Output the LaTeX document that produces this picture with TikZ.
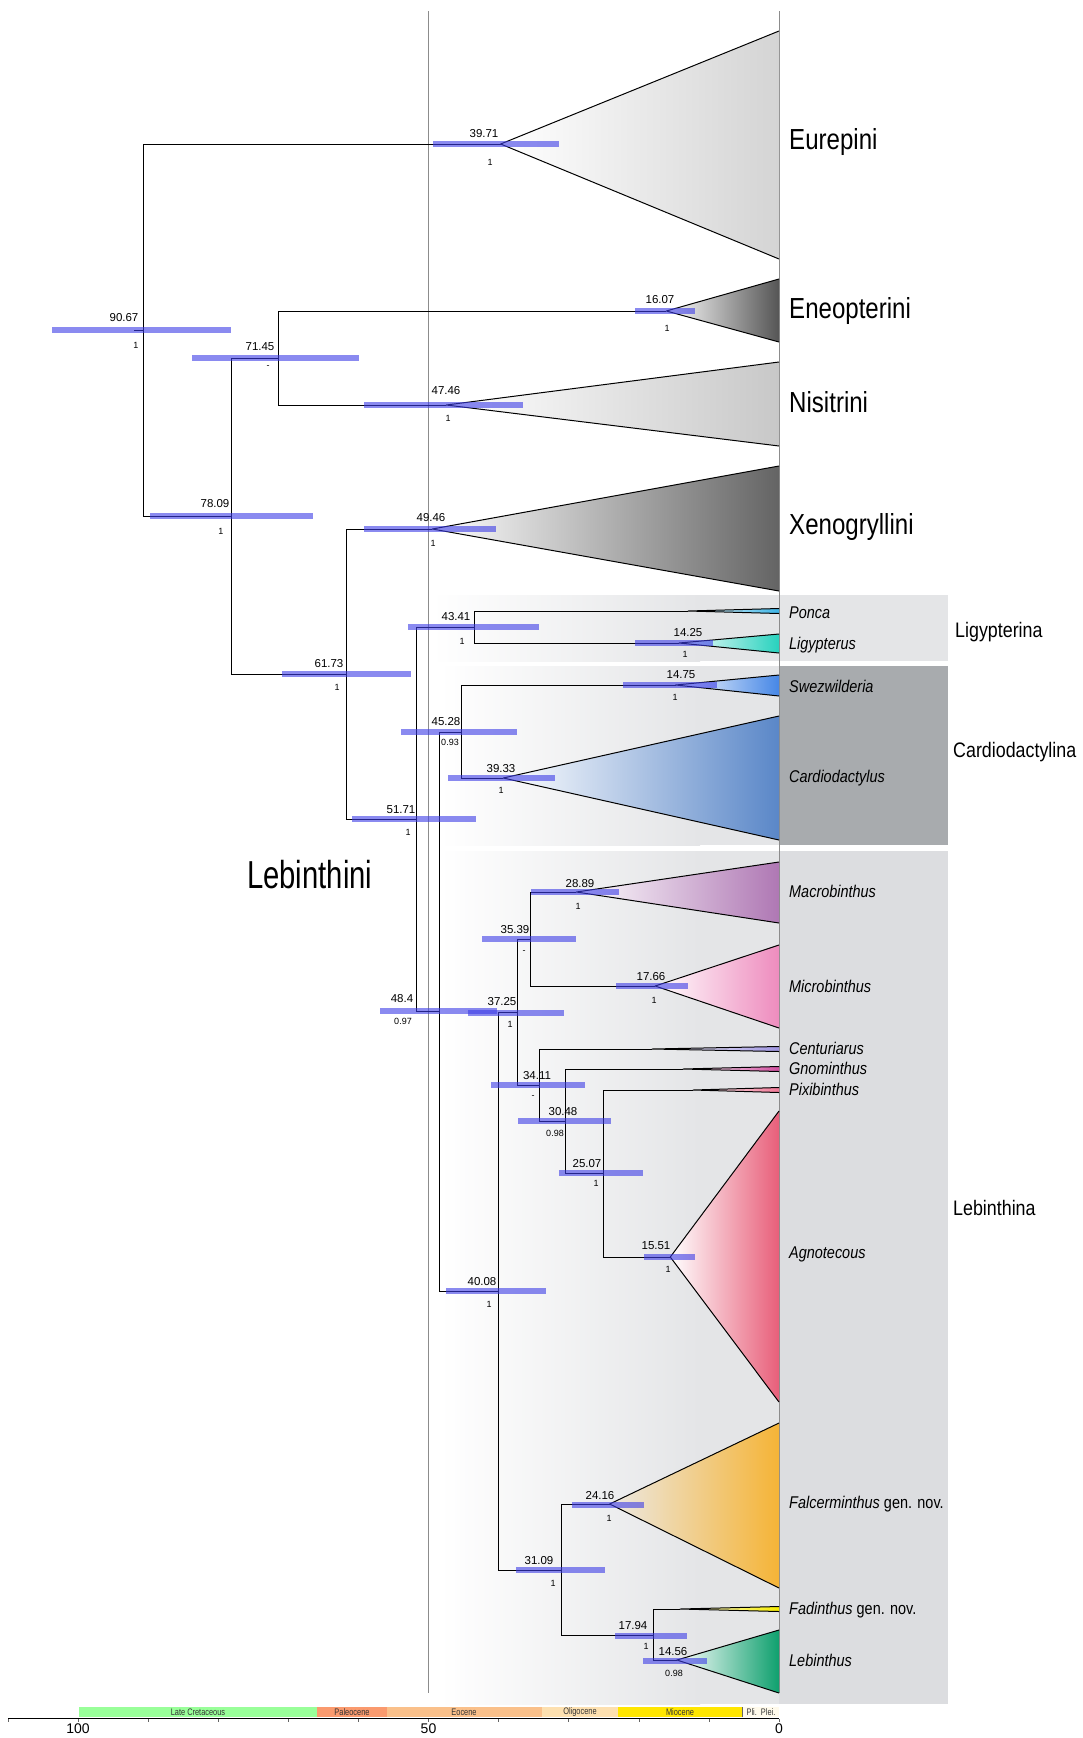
\documentclass[tikz,border=0pt]{standalone}
\usepackage{fontspec}
\setmainfont{Liberation Sans}
\newfontfamily\tribefont[FakeStretch=0.83]{Liberation Sans}
\newfontfamily\bigtribefont[FakeStretch=0.75]{Liberation Sans}
\newfontfamily\genusfont[FakeStretch=0.85]{Liberation Sans}
\newfontfamily\subtribefont[FakeStretch=0.85]{Liberation Sans}
\newfontfamily\epochfont[FakeStretch=0.78]{Liberation Sans}

\definecolor{hpdblue}{RGB}{60,60,230}
\definecolor{boxlight}{RGB}{228,229,231}
\definecolor{boxdark}{RGB}{168,171,174}
\definecolor{boxmid}{RGB}{220,221,224}
\definecolor{eurgray}{RGB}{212,212,212}
\definecolor{enegray}{RGB}{85,85,85}
\definecolor{nisgray}{RGB}{200,200,200}
\definecolor{xengray}{RGB}{100,100,100}
\definecolor{poncablue}{RGB}{60,180,230}
\definecolor{ligteal}{RGB}{40,210,190}
\definecolor{sweblue}{RGB}{70,135,230}
\definecolor{carblue}{RGB}{90,135,200}
\definecolor{macpurple}{RGB}{175,120,180}
\definecolor{micpink}{RGB}{238,140,190}
\definecolor{cenlav}{RGB}{160,150,225}
\definecolor{gnomag}{RGB}{210,80,160}
\definecolor{pixpink}{RGB}{240,120,150}
\definecolor{agnred}{RGB}{232,95,122}
\definecolor{falorange}{RGB}{245,180,55}
\definecolor{fallight}{RGB}{236,233,228}
\definecolor{fadyellow}{RGB}{245,235,0}
\definecolor{lebgreen}{RGB}{15,160,110}
\definecolor{lcret}{RGB}{153,255,153}
\definecolor{paleoc}{RGB}{250,154,110}
\definecolor{eocene}{RGB}{250,192,138}
\definecolor{oligoc}{RGB}{253,224,176}
\definecolor{miocene}{RGB}{255,230,0}
\definecolor{pleist}{RGB}{255,250,235}

\newcommand{\ma}[1]{779-7.01*#1}
\newcommand{\clade}[5][white]{%
  \path[left color=#1, right color=#5] (#2) -- (779,#3) -- (779,#4) -- cycle;
  \draw[branch, line join=round] (779,#3) -- (#2) -- (779,#4);}
\newcommand{\hpd}[3]{\fill[hpd] (#1,{#3-3}) rectangle (#2,{#3+3});}

\tikzset{
  branch/.style={line width=1pt, black},
  refline/.style={line width=0.7pt, black!45},
  hpd/.style={fill=hpdblue, fill opacity=0.6},
  age/.style={inner sep=0pt, font=\fontsize{11.5}{12}\selectfont},
  pp/.style={inner sep=0pt, font=\fontsize{9}{9}\selectfont},
  tribe/.style={anchor=base west, inner sep=0pt, font=\tribefont\fontsize{29}{29}\selectfont},
  genus/.style={anchor=base west, inner sep=0pt, font=\genusfont\fontsize{17}{17}\selectfont\itshape},
  subtribe/.style={anchor=base west, inner sep=0pt, font=\subtribefont\fontsize{21}{21}\selectfont},
  epoch/.style={inner sep=0pt, text=black!80, font=\epochfont\fontsize{9.5}{9.5}\selectfont},
  axis/.style={line width=1.4pt, black},
  ticklabel/.style={inner sep=0pt, font=\fontsize{14}{14}\selectfont},
}

\begin{document}
\begin{tikzpicture}[x=1pt,y=-1pt]
\useasboundingbox (0,0) rectangle (1083,1738);

% subtribe boxes
\shade[left color=white, right color=boxlight] (432,595) rectangle (700,661);
\fill[boxlight] (700,595) rectangle (948,661);
\shade[left color=white, right color=boxlight] (440,666) rectangle (700,845);
\fill[boxlight] (700,666) rectangle (779,845);
\fill[boxdark] (779,666) rectangle (948,845);
\shade[left color=white, right color=boxlight] (440,851) rectangle (700,1704);
\fill[boxlight] (700,851) rectangle (779,1704);
\fill[boxmid] (779,851) rectangle (948,1704);

\draw[refline] (428,11) -- (428,1693);
\draw[refline] (779,11) -- (779,1693);

% tree nodes
\coordinate (stem) at (134,330);
\coordinate (root) at ({\ma{90.67}},330);
\coordinate (eur) at ({\ma{39.71}},144);
\coordinate (a7809) at ({\ma{78.09}},516);
\coordinate (a7145) at ({\ma{71.45}},358);
\coordinate (ene) at ({\ma{16.07}},311);
\coordinate (nis) at ({\ma{47.46}},405);
\coordinate (a6173) at ({\ma{61.73}},674);
\coordinate (xen) at ({\ma{49.46}},529);
\coordinate (a5171) at ({\ma{51.71}},819);
\coordinate (a4341) at ({\ma{43.41}},627);
\coordinate (ponca) at (688,611);
\coordinate (lig) at ({\ma{14.25}},643);
\coordinate (a484) at ({\ma{48.4}},1011);
\coordinate (a4528) at ({\ma{45.28}},732);
\coordinate (swe) at ({\ma{14.75}},685);
\coordinate (car) at ({\ma{39.33}},778);
\coordinate (a4008) at ({\ma{40.08}},1291);
\coordinate (a3725) at ({\ma{37.25}},1012);
\coordinate (a3539) at ({\ma{35.39}},939);
\coordinate (mac) at ({\ma{28.89}},892);
\coordinate (mic) at ({\ma{17.66}},986);
\coordinate (a3411) at ({\ma{34.11}},1085);
\coordinate (cen) at (652,1049);
\coordinate (a3048) at ({\ma{30.48}},1121);
\coordinate (gno) at (683,1069);
\coordinate (a2507) at ({\ma{25.07}},1173);
\coordinate (pix) at (693,1090);
\coordinate (agn) at ({\ma{15.51}},1257);
\coordinate (a3109) at ({\ma{31.09}},1570);
\coordinate (fal) at ({\ma{24.16}},1504);
\coordinate (a1794) at ({\ma{17.94}},1635);
\coordinate (fad) at (680,1609);
\coordinate (leb) at ({\ma{14.56}},1660);

% collapsed clades
\clade{eur}{31}{259}{eurgray}
\clade{ene}{279}{342}{enegray}
\clade{nis}{362}{446}{nisgray}
\clade{xen}{466}{591}{xengray}
\clade{ponca}{608.5}{613.5}{poncablue}
\clade{lig}{634}{653}{ligteal}
\clade{swe}{675}{696}{sweblue}
\clade{car}{716}{840}{carblue}
\clade{mac}{862}{923}{macpurple}
\clade{mic}{945}{1028}{micpink}
\clade{cen}{1046.5}{1051.5}{cenlav}
\clade{gno}{1066.5}{1071.5}{gnomag}
\clade{pix}{1087.5}{1092.5}{pixpink}
\clade{agn}{1111}{1402}{agnred}
\clade[fallight]{fal}{1423}{1588}{falorange}
\clade{fad}{1606.5}{1611.5}{fadyellow}
\clade{leb}{1630}{1693}{lebgreen}

% branches
\draw[branch] (stem) -- (root);
\draw[branch] (eur) -| (root) |- (a7809);
\draw[branch] (a7145) -| (a7809) |- (a6173);
\draw[branch] (ene) -| (a7145) |- (nis);
\draw[branch] (xen) -| (a6173) |- (a5171);
\draw[branch] (a4341) -| (a5171) |- (a484);
\draw[branch] (ponca) -| (a4341) |- (lig);
\draw[branch] (a4528) -| (a484) |- (a4008);
\draw[branch] (swe) -| (a4528) |- (car);
\draw[branch] (a3725) -| (a4008) |- (a3109);
\draw[branch] (a3539) -| (a3725) |- (a3411);
\draw[branch] (mac) -| (a3539) |- (mic);
\draw[branch] (cen) -| (a3411) |- (a3048);
\draw[branch] (gno) -| (a3048) |- (a2507);
\draw[branch] (pix) -| (a2507) |- (agn);
\draw[branch] (fal) -| (a3109) |- (a1794);
\draw[branch] (fad) -| (a1794) |- (leb);

% 95% HPD bars
\hpd{433}{559}{144}
\hpd{52}{231}{330}
\hpd{192}{359}{358}
\hpd{635}{695}{311}
\hpd{364}{523}{405}
\hpd{150}{313}{516}
\hpd{364}{496}{529}
\hpd{408}{539}{627}
\hpd{635}{713}{643}
\hpd{282}{411}{674}
\hpd{623}{717}{685}
\hpd{401}{517}{732}
\hpd{448}{555}{778}
\hpd{352}{476}{819}
\hpd{380}{497}{1011}
\hpd{468}{564}{1013}
\hpd{482}{576}{939}
\hpd{531}{619}{892}
\hpd{616}{688}{986}
\hpd{491}{585}{1085}
\hpd{518}{611}{1121}
\hpd{559}{643}{1173}
\hpd{644}{695}{1257}
\hpd{446}{546}{1291}
\hpd{572}{644}{1505}
\hpd{516}{605}{1570}
\hpd{615}{687}{1636}
\hpd{643}{707}{1661}

% node ages and support
\node[age] (t3971) at (484,134) {39.71}; \node[pp] (s3971) at (490,162) {1};
\node[age] (t1607) at (660,300) {16.07}; \node[pp] (s1607) at (667,328) {1};
\node[age] (t9067) at (124,318) {90.67}; \node[pp] (s9067) at (136,345) {1};
\node[age] (t7145) at (260,347) {71.45}; \node[pp] (s7145) at (268,367) {-};
\node[age] (t4746) at (446,391) {47.46}; \node[pp] (s4746) at (448,418) {1};
\node[age] (t7809) at (215,504) {78.09}; \node[pp] (s7809) at (221,531) {1};
\node[age] (t4946) at (431,518) {49.46}; \node[pp] (s4946) at (433,543) {1};
\node[age] (t4341) at (456,617) {43.41}; \node[pp] (s4341) at (462,641) {1};
\node[age] (t1425) at (688,633) {14.25}; \node[pp] (s1425) at (685,654) {1};
\node[age] (t6173) at (329,664) {61.73}; \node[pp] (s6173) at (337,687) {1};
\node[age] (t1475) at (681,675) {14.75}; \node[pp] (s1475) at (675,697) {1};
\node[age] (t4528) at (446,722) {45.28}; \node[pp] (s4528) at (450,742) {0.93};
\node[age] (t3933) at (501,769) {39.33}; \node[pp] (s3933) at (501,790) {1};
\node[age] (t5171) at (401,810) {51.71}; \node[pp] (s5171) at (408,832) {1};
\node[age] (t484) at (402,999) {48.4}; \node[pp] (s484) at (403,1021) {0.97};
\node[age] (t3725) at (502,1002) {37.25}; \node[pp] (s3725) at (510,1024) {1};
\node[age] (t3539) at (515,930) {35.39}; \node[pp] (s3539) at (524,952) {-};
\node[age] (t2889) at (580,884) {28.89}; \node[pp] (s2889) at (578,906) {1};
\node[age] (t1766) at (651,977) {17.66}; \node[pp] (s1766) at (654,1000) {1};
\node[age] (t3411) at (537,1076) {34.11}; \node[pp] (s3411) at (533,1097) {-};
\node[age] (t3048) at (563,1112) {30.48}; \node[pp] (s3048) at (555,1133) {0.98};
\node[age] (t2507) at (587,1164) {25.07}; \node[pp] (s2507) at (596,1183) {1};
\node[age] (t1551) at (656,1246) {15.51}; \node[pp] (s1551) at (668,1269) {1};
\node[age] (t4008) at (482,1282) {40.08}; \node[pp] (s4008) at (489,1304) {1};
\node[age] (t2416) at (600,1496) {24.16}; \node[pp] (s2416) at (609,1518) {1};
\node[age] (t3109) at (539,1561) {31.09}; \node[pp] (s3109) at (553,1583) {1};
\node[age] (t1794) at (633,1626) {17.94}; \node[pp] (s1794) at (646,1646) {1};
\node[age] (t1456) at (673,1652) {14.56}; \node[pp] (s1456) at (674,1673) {0.98};

% tribes
\node[tribe] (lEur) at (789,149) {Eurepini};
\node[tribe] (lEne) at (789,318) {Eneopterini};
\node[tribe] (lNis) at (789,412) {Nisitrini};
\node[tribe] (lXen) at (789,534) {Xenogryllini};
\node[anchor=base west, inner sep=0pt, font=\bigtribefont\fontsize{39}{39}\selectfont] (lLeb) at (247,888) {Lebinthini};

% genera
\node[genus] (gPon) at (789,618) {Ponca};
\node[genus] (gLig) at (789,649) {Ligypterus};
\node[genus] (gSwe) at (789,692) {Swezwilderia};
\node[genus] (gCar) at (789,782) {Cardiodactylus};
\node[genus] (gMac) at (789,897) {Macrobinthus};
\node[genus] (gMic) at (789,992) {Microbinthus};
\node[genus] (gCen) at (789,1054) {Centuriarus};
\node[genus] (gGno) at (789,1074) {Gnominthus};
\node[genus] (gPix) at (789,1095) {Pixibinthus};
\node[genus] (gAgn) at (789,1258) {Agnotecous};
\node[genus] (gFal) at (789,1508) {Falcerminthus\/ \upshape gen. nov.};
\node[genus] (gFad) at (789,1614) {Fadinthus\/ \upshape gen. nov.};
\node[genus] (gLeb) at (789,1666) {Lebinthus};

% subtribes
\node[subtribe] (sLig) at (955,637) {Ligypterina};
\node[subtribe] (sCar) at (953,757) {Cardiodactylina};
\node[subtribe] (sLeb) at (953,1215) {Lebinthina};

% time scale
\fill[lcret] (79,1707) rectangle (317,1717);
\fill[paleoc] (317,1707) rectangle (387,1717);
\fill[eocene] (387,1707) rectangle (542,1717);
\fill[oligoc] (542,1707) rectangle (618,1717);
\fill[miocene] (618,1707) rectangle (742,1717);
\fill[pleist] (742,1707) rectangle (779,1717);
\draw[black!60, line width=0.5pt] (742,1707) -- (742,1717);
\node[epoch] (eCre) at (198,1712) {Late Cretaceous};
\node[epoch] (ePal) at (352,1712) {Paleocene};
\node[epoch] (eEoc) at (464,1712) {Eocene};
\node[epoch] (eOli) at (580,1712) {Oligocene};
\node[epoch] (eMio) at (680,1712) {Miocene};
\node[epoch] (ePli) at (761,1712) {Pli.\ \ Plei.};

\draw[axis] (8,1718.5) -- (779,1718.5);
\foreach \t in {0,10,...,110}
  \draw[line width=0.6pt, black!60] ({\ma{\t}},1719) -- ++(0,3);
\node[ticklabel] (x100) at ({\ma{100}},1729) {100};
\node[ticklabel] (x50) at ({\ma{50}},1729) {50};
\node[ticklabel] (x0) at ({\ma{0}},1729) {0};
\end{tikzpicture}
\end{document}
